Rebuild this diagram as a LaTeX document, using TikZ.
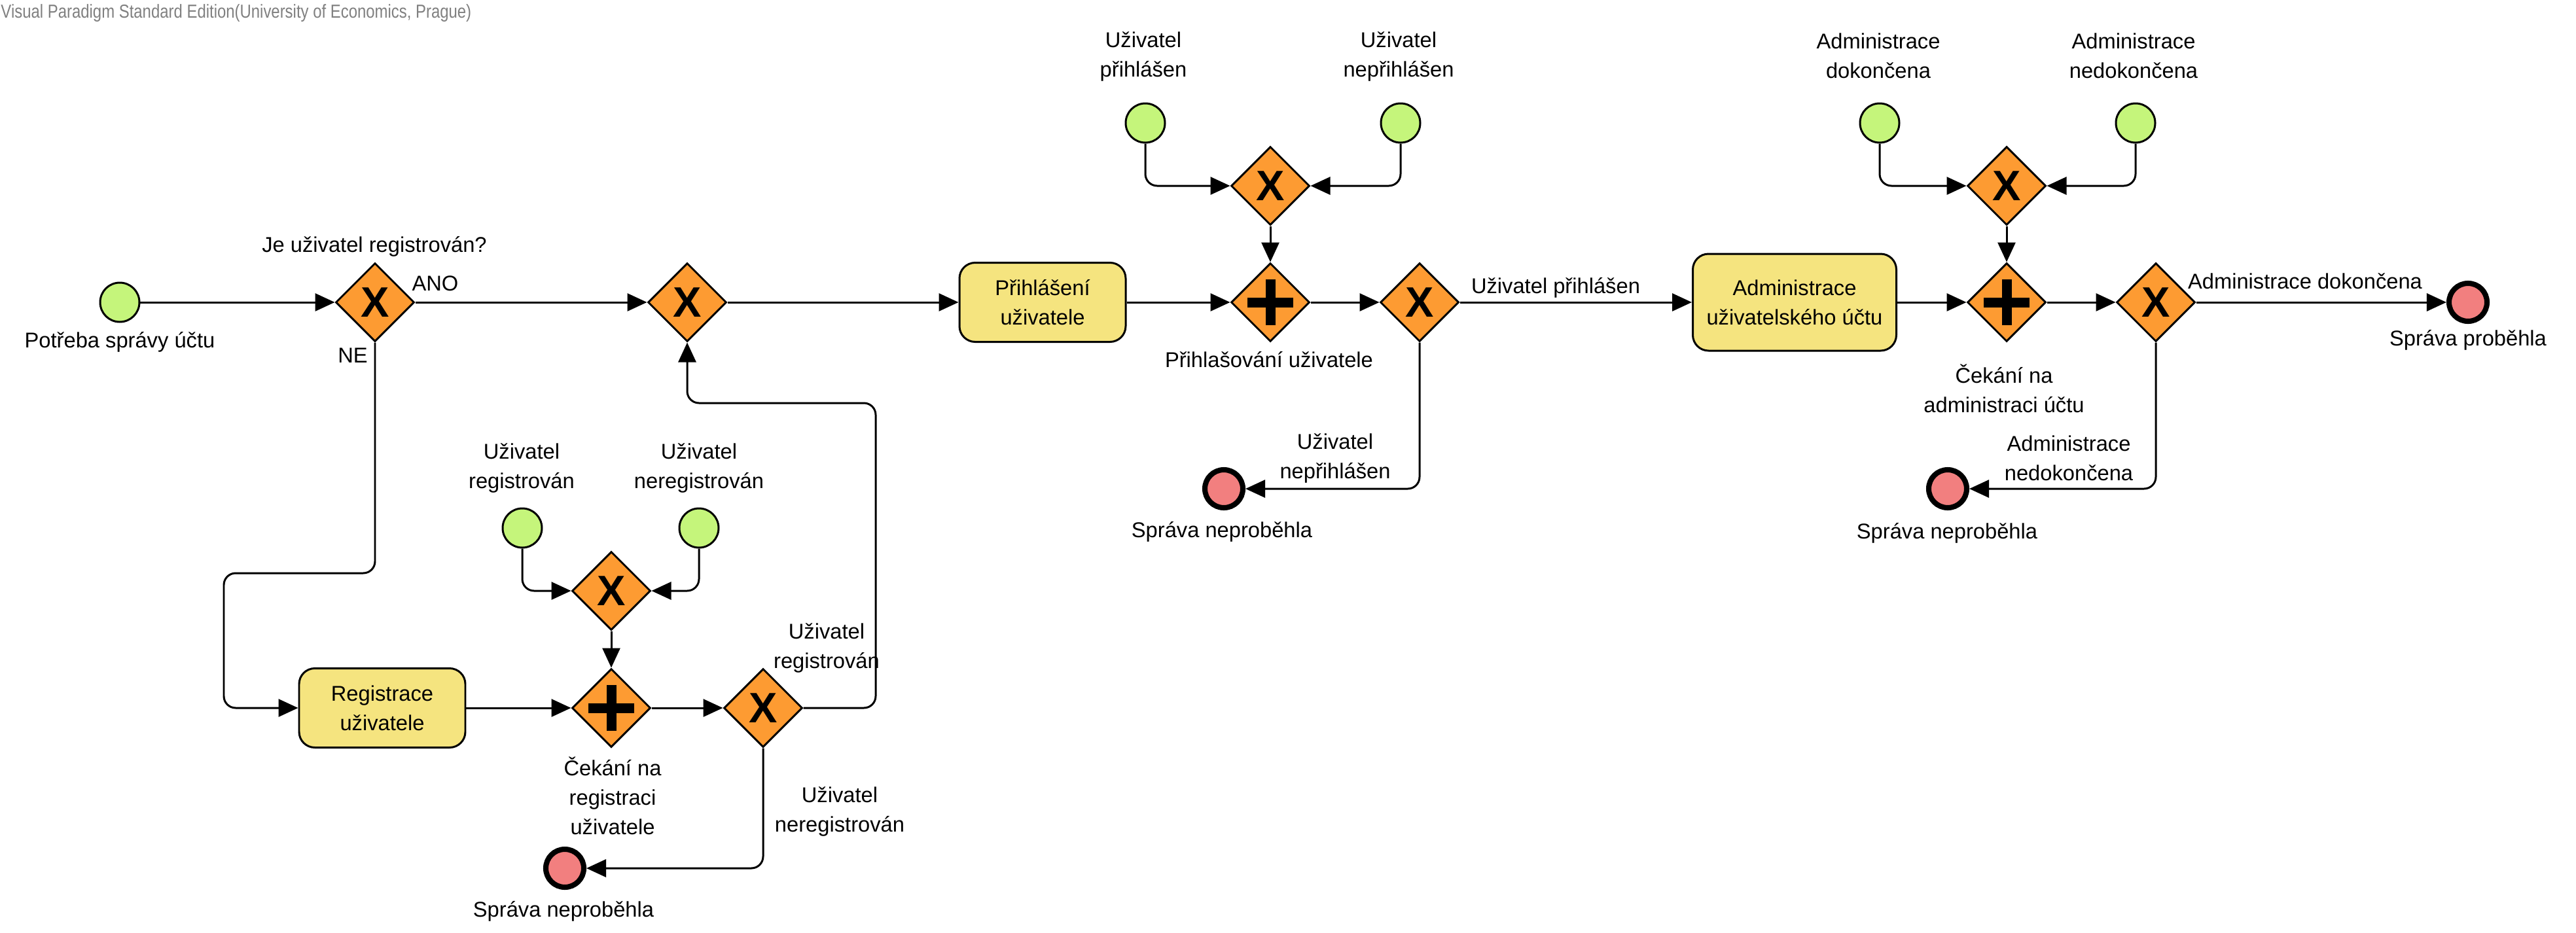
\documentclass[tikz,border=0pt]{standalone}
\usepackage{fontspec}
\setmainfont{Liberation Sans}
\newfontfamily\wmfont[FakeStretch=0.83]{Liberation Sans}
\usetikzlibrary{arrows.meta,shapes.geometric}
\definecolor{evstart}{HTML}{C5F57B}
\definecolor{evend}{HTML}{F27F7F}
\definecolor{gwfill}{HTML}{FD9B32}
\definecolor{taskfill}{HTML}{F5E47F}

\begin{document}
\begin{tikzpicture}[
  font=\fontsize{9.3}{12.8}\selectfont,
  line width=0.85pt,
  task/.style={
    draw,
    fill=taskfill,
    rounded corners=0.24cm,
    align=center,
    minimum width=2.54cm,
    minimum height=1.21cm,
    inner sep=2pt
  },
  xgate/.style={
    draw,
    fill=gwfill,
    diamond,
    aspect=1,
    minimum width=1.2cm,
    minimum height=1.2cm,
    inner sep=0pt,
    font=\fontsize{18.5}{18.5}\selectfont\bfseries
  },
  pgate/.style={
    draw,
    fill=gwfill,
    diamond,
    aspect=1,
    minimum width=1.2cm,
    minimum height=1.2cm,
    inner sep=0pt,
    path picture={
      \fill[black] ([xshift=-0.35cm,yshift=-0.075cm]path picture bounding box.center)
        rectangle ([xshift=0.35cm,yshift=0.075cm]path picture bounding box.center);
      \fill[black] ([xshift=-0.075cm,yshift=-0.35cm]path picture bounding box.center)
        rectangle ([xshift=0.075cm,yshift=0.35cm]path picture bounding box.center);
    }
  },
  startev/.style={draw, circle, fill=evstart, minimum size=0.6cm, inner sep=0pt},
  endev/.style={draw, circle, fill=evend, minimum size=0.58cm, inner sep=0pt, line width=2.3pt},
  lbl/.style={align=center, inner sep=1pt},
  arr/.style={-{Triangle[length=0.3cm, width=0.27cm]}, rounded corners=0.18cm}
]

\useasboundingbox (0,0) rectangle (39.36,-14.25);

\node[anchor=west, inner sep=0pt, text=black!50, font=\wmfont\fontsize{8.2}{9}\selectfont] (wm) at (0,-0.2)
  {Visual Paradigm Standard Edition(University of Economics, Prague)};

% main row
\node[startev] (s0) at (1.83,-4.62) {};
\node[lbl] (s0l) at (1.83,-5.23) {Potřeba správy účtu};
\node[xgate] (g1) at (5.73,-4.62) {X};
\node[lbl] (g1q) at (5.72,-3.77) {Je uživatel registrován?};
\node[lbl] (ano) at (6.65,-4.33) {ANO};
\node[lbl] (ne) at (5.39,-5.43) {NE};
\node[xgate] (g2) at (10.50,-4.62) {X};
\node[task] (t1) at (15.93,-4.62) {Přihlášení\\uživatele};
\node[pgate] (p1) at (19.41,-4.62) {};
\node[lbl] (p1l) at (19.39,-5.50) {Přihlašování uživatele};
\node[xgate] (x1) at (21.69,-4.62) {X};
\node[lbl] (x1l) at (23.77,-4.40) {Uživatel přihlášen};
\node[task, minimum width=3.11cm, minimum height=1.48cm] (t2) at (27.42,-4.62)
  {Administrace\\uživatelského účtu};
\node[pgate] (p2) at (30.66,-4.62) {};
\node[lbl] (p2l) at (30.62,-5.94) {Čekání na\\administraci účtu};
\node[xgate] (x3) at (32.94,-4.62) {X};
\node[lbl] (x3l) at (35.22,-4.30) {Administrace dokončena};
\node[endev] (e1) at (37.71,-4.62) {};
\node[lbl] (e1l) at (37.71,-5.20) {Správa proběhla};

% registration
\node[task] (t0) at (5.84,-10.82) {Registrace\\uživatele};
\node[pgate] (p0) at (9.34,-10.82) {};
\node[lbl] (p0l) at (9.36,-12.16) {Čekání na\\registraci\\uživatele};
\node[xgate] (x0) at (11.66,-10.82) {X};
\node[lbl] (x0a) at (12.63,-9.90) {Uživatel\\registrován};
\node[lbl] (x0b) at (12.83,-12.40) {Uživatel\\neregistrován};
\node[endev] (e0) at (8.63,-13.27) {};
\node[lbl] (e0l) at (8.61,-13.93) {Správa neproběhla};
\node[xgate] (ga) at (9.34,-9.03) {X};
\node[startev] (ca1) at (7.98,-8.07) {};
\node[lbl] (ca1l) at (7.97,-7.15) {Uživatel\\registrován};
\node[startev] (ca2) at (10.68,-8.07) {};
\node[lbl] (ca2l) at (10.68,-7.15) {Uživatel\\neregistrován};

% login
\node[xgate] (gb) at (19.41,-2.84) {X};
\node[startev] (cb1) at (17.50,-1.88) {};
\node[lbl] (cb1l) at (17.47,-0.86) {Uživatel\\přihlášen};
\node[startev] (cb2) at (21.40,-1.88) {};
\node[lbl] (cb2l) at (21.37,-0.86) {Uživatel\\nepřihlášen};
\node[endev] (e2) at (18.70,-7.47) {};
\node[lbl] (e2l) at (18.67,-8.13) {Správa neproběhla};
\node[lbl] (x1b) at (20.40,-7.00) {Uživatel\\nepřihlášen};

% administration
\node[xgate] (gc) at (30.66,-2.84) {X};
\node[startev] (cc1) at (28.72,-1.88) {};
\node[lbl] (cc1l) at (28.70,-0.85) {Administrace\\dokončena};
\node[startev] (cc2) at (32.63,-1.88) {};
\node[lbl] (cc2l) at (32.60,-0.85) {Administrace\\nedokončena};
\node[endev] (e3) at (29.76,-7.47) {};
\node[lbl] (e3l) at (29.75,-8.15) {Správa neproběhla};
\node[lbl] (x3b) at (31.61,-7.00) {Administrace\\nedokončena};

\coordinate (bendA) at (3.42,-8.76);
\coordinate (loopA) at (13.38,-6.16);

\draw[arr] (s0) -- (g1);
\draw[arr] (g1) -- (g2);
\draw[arr] (g2) -- (t1);
\draw[arr] (t1) -- (p1);
\draw[arr] (p1) -- (x1);
\draw[arr] (x1) -- (t2);
\draw[arr] (t2) -- (p2);
\draw[arr] (p2) -- (x3);
\draw[arr] (x3) -- (e1);

\draw[arr] (g1) |- (bendA) |- (t0);
\draw[arr] (t0) -- (p0);
\draw[arr] (p0) -- (x0);
\draw[arr] (x0) -| (loopA) -| (g2);
\draw[arr] (x0) |- (e0);
\draw[arr] (ca1) |- (ga);
\draw[arr] (ca2) |- (ga);
\draw[arr] (ga) -- (p0);

\draw[arr] (cb1) |- (gb);
\draw[arr] (cb2) |- (gb);
\draw[arr] (gb) -- (p1);
\draw[arr] (x1) |- (e2);

\draw[arr] (cc1) |- (gc);
\draw[arr] (cc2) |- (gc);
\draw[arr] (gc) -- (p2);
\draw[arr] (x3) |- (e3);

\end{tikzpicture}
\end{document}
